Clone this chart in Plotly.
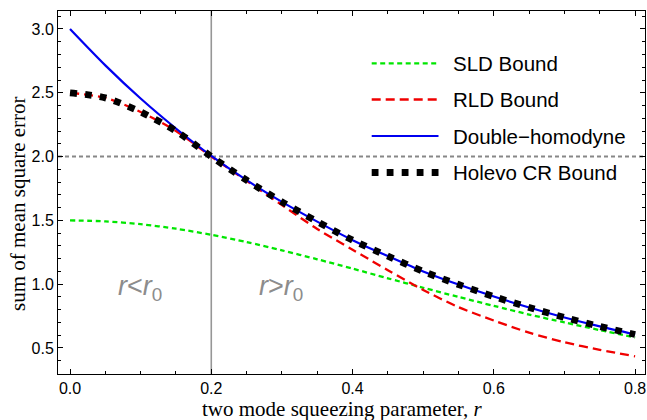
import plotly.graph_objects as go

# ---- data ----
r = [0.0, 0.05, 0.10, 0.15, 0.20, 0.25, 0.30, 0.35, 0.40, 0.45,
     0.50, 0.55, 0.60, 0.65, 0.70, 0.75, 0.80]
sld_bound = [1.50, 1.492, 1.47, 1.435, 1.387, 1.33, 1.265, 1.195, 1.122, 1.046,
             0.972, 0.90, 0.83, 0.762, 0.70, 0.64, 0.582]
rld_bound = [2.50, 2.46, 2.35, 2.20, 2.00, 1.81, 1.62, 1.433, 1.27, 1.11,
             0.955, 0.82, 0.715, 0.62, 0.545, 0.485, 0.435]
double_homodyne = [3.00, 2.715, 2.455, 2.22, 2.005, 1.815, 1.645, 1.49, 1.345, 1.22,
                   1.10, 0.997, 0.903, 0.817, 0.739, 0.669, 0.606]
holevo_bound = [2.50, 2.46, 2.35, 2.20, 2.00, 1.815, 1.645, 1.49, 1.345, 1.22,
                1.10, 0.997, 0.903, 0.817, 0.739, 0.669, 0.606]
r0 = 0.2
mse_level = 2.0

x_ticks = [0.0, 0.2, 0.4, 0.6, 0.8]
y_ticks = [0.5, 1.0, 1.5, 2.0, 2.5, 3.0]

series_names = ["SLD Bound", "RLD Bound", "Double\u2212homodyne", "Holevo CR Bound"]

# ---- layout geometry (pixels) ----
W, H = 647, 420
L, R, T, B = 58, 2, 11, 46
PW, PH = W - L - R, H - T - B


def px(x):
    return (x - L) / PW


def py(y):
    return (H - B - y) / PH


styles = [
    dict(color="rgb(0,230,0)", width=2.3, dash="5px,3.5px"),
    dict(color="rgb(240,0,0)", width=2.3, dash="9px,5px"),
    dict(color="rgb(0,0,240)", width=2.2, dash="solid"),
    dict(color="black", width=6.8, dash="6.8px,8.2px"),
]
series = [sld_bound, rld_bound, double_homodyne, holevo_bound]

fig = go.Figure()
for name, ys, st in zip(series_names, series, styles):
    fig.add_trace(go.Scatter(x=r, y=ys, mode="lines", name=name,
                             line=dict(shape="spline", smoothing=0.8, **st),
                             showlegend=False))

# reference lines
fig.add_shape(type="line", xref="x", yref="paper", x0=r0, x1=r0, y0=0, y1=1,
              line=dict(color="rgb(150,150,150)", width=1.6), layer="below")
fig.add_shape(type="line", xref="paper", yref="y", x0=0, x1=1, y0=mse_level, y1=mse_level,
              line=dict(color="rgb(135,135,135)", width=2, dash="4px,3px"), layer="below")

# region labels
lab_font = dict(family="Liberation Sans", size=27, color="rgb(140,140,140)")
fig.add_annotation(x=0.099, y=0.97, xref="x", yref="y", showarrow=False,
                   text="<i>r</i><<i>r</i><sub>0</sub>", font=lab_font)
fig.add_annotation(x=0.298, y=0.97, xref="x", yref="y", showarrow=False,
                   text="<i>r</i>><i>r</i><sub>0</sub>", font=lab_font)

# custom legend
leg_y = [63.3, 99.5, 136, 172.5]
for name, yy, st in zip(series_names, leg_y, styles):
    fig.add_shape(type="line", xref="paper", yref="paper",
                  x0=px(371.7), x1=px(438.5), y0=py(yy), y1=py(yy),
                  line=dict(color=st["color"], width=st["width"], dash=st["dash"]))
    fig.add_annotation(x=px(451), y=py(yy), xref="paper", yref="paper",
                       xanchor="left", yanchor="middle", showarrow=False,
                       text=name, font=dict(family="Liberation Sans", size=20.5, color="black"))

# axis titles
fig.add_annotation(x=px(342), y=py(409), xref="paper", yref="paper", showarrow=False,
                   xanchor="center", yanchor="middle", borderpad=0,
                   text="two mode squeezing parameter, <i>r</i>",
                   font=dict(family="Liberation Serif", size=21, color="black"))
fig.add_annotation(x=px(17.5), y=py(203.5), xref="paper", yref="paper", showarrow=False,
                   xanchor="center", yanchor="middle", textangle=-90,
                   text="sum of mean square error",
                   font=dict(family="Liberation Serif", size=21, color="black"))

axis_common = dict(showgrid=False, zeroline=False, showline=True, linecolor="black",
                   linewidth=1, mirror="ticks", ticks="inside", ticklen=5, tickwidth=1,
                   tickcolor="black",
                   tickfont=dict(family="Liberation Sans", size=16, color="black"))

fig.update_xaxes(range=[-0.017, 0.814], tickvals=x_ticks,
                 ticktext=[f"{v:.1f}" for v in x_ticks], ticklabelstandoff=0,
                 minor=dict(dtick=0.05, tick0=0, ticks="inside", ticklen=3,
                            tickwidth=1, tickcolor="black"),
                 **axis_common)
fig.update_yaxes(range=[0.296, 3.141], tickvals=y_ticks,
                 ticktext=[f"{v:.1f}" for v in y_ticks],
                 minor=dict(dtick=0.1, tick0=0, ticks="inside", ticklen=3,
                            tickwidth=1, tickcolor="black"),
                 **axis_common)

fig.update_layout(width=W, height=H, margin=dict(l=L, r=R, t=T, b=B),
                  plot_bgcolor="white", paper_bgcolor="white", showlegend=False)

fig.write_html("out.html", config={"displayModeBar": False},
               post_script="document.body.style.margin='0';document.body.style.overflow='hidden';")
